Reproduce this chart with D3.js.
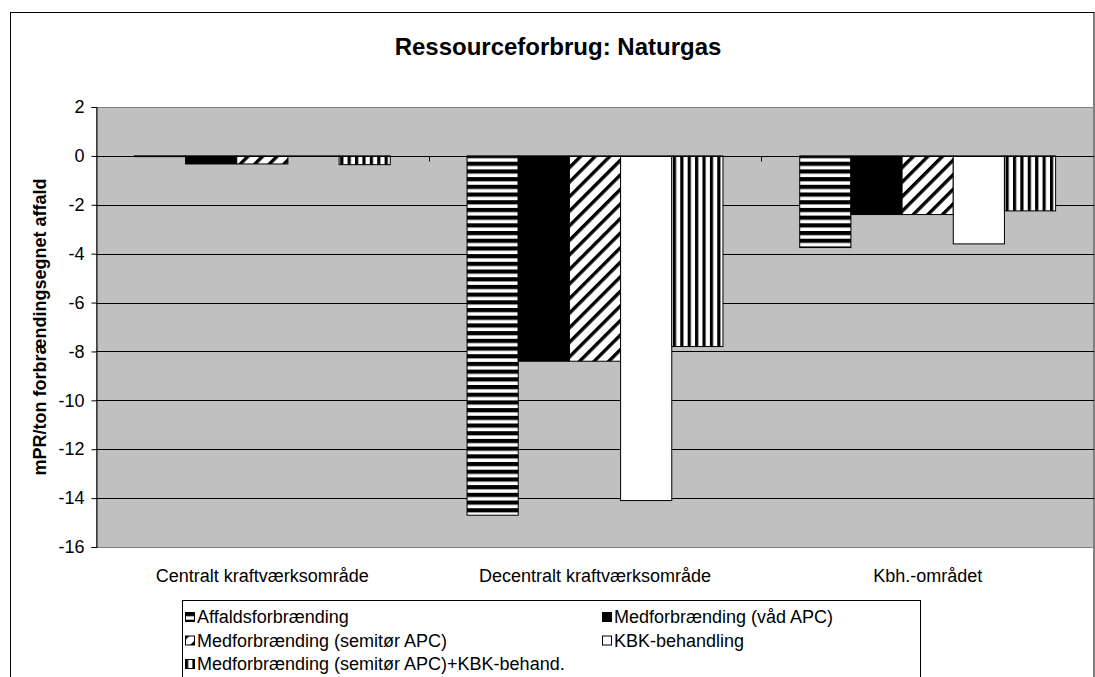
<!DOCTYPE html>
<html>
<head>
<meta charset="utf-8">
<script src="https://cdn.jsdelivr.net/npm/d3@7"></script>
<style>
  body { margin: 0; background: #fff; }
  text { font-family: Arial, "Liberation Sans", sans-serif; fill: #000; }
</style>
</head>
<body>
<div id="chart"></div>
<script>
// data
var categories = ["Centralt kraftværksområde", "Decentralt kraftværksområde", "Kbh.-området"];
var seriesNames = ["Affaldsforbrænding", "Medforbrænding (våd APC)", "Medforbrænding (semitør APC)",
                   "KBK-behandling", "Medforbrænding (semitør APC)+KBK-behand."];
var affald   = [-0.03, -14.7, -3.75];
var vaad     = [-0.33, -8.4, -2.4];
var semitor  = [-0.33, -8.4, -2.4];
var kbk      = [-0.02, -14.1, -3.6];
var semiKbk  = [-0.36, -7.8, -2.25];
var yTicks   = [2, 0, -2, -4, -6, -8, -10, -12, -14, -16];
var fills    = ["url(#horiz)", "#000", "url(#diag)", "#fff", "url(#vert)"];

var values = [affald, vaad, semitor, kbk, semiKbk];

// 1: dimensions
var W = 1095, H = 677;
var plot = {left: 96, right: 1094, top: 107, bottom: 547};

var svg = d3.select("#chart").append("svg")
    .attr("width", W)
    .attr("height", H);

// patterns
var defs = svg.append("defs");
var ph = defs.append("pattern").attr("id", "horiz")
    .attr("patternUnits", "userSpaceOnUse").attr("width", 8).attr("height", 7.7);
ph.append("rect").attr("width", 8).attr("height", 7.7).attr("fill", "#fff");
ph.append("rect").attr("width", 8).attr("height", 4.2).attr("fill", "#000");

var pv = defs.append("pattern").attr("id", "vert")
    .attr("patternUnits", "userSpaceOnUse").attr("width", 7.4).attr("height", 8);
pv.append("rect").attr("width", 7.4).attr("height", 8).attr("fill", "#fff");
pv.append("rect").attr("width", 3.2).attr("height", 8).attr("fill", "#000");

var pd = defs.append("pattern").attr("id", "diag")
    .attr("patternUnits", "userSpaceOnUse").attr("width", 10.3).attr("height", 10.3)
    .attr("patternTransform", "rotate(45)");
pd.append("rect").attr("width", 10.3).attr("height", 10.3).attr("fill", "#fff");
pd.append("rect").attr("width", 3.4).attr("height", 10.3).attr("fill", "#000");

// 2: chart border
svg.append("rect")
    .attr("x", 10.5).attr("y", 12.5)
    .attr("width", 1083.5).attr("height", 700)
    .attr("fill", "#fff").attr("stroke", "#000");

// 3: scales
var x0 = d3.scaleBand()
    .domain(categories)
    .range([plot.left, plot.right])
    .padding(0);
var x1 = d3.scaleBand()
    .domain(d3.range(seriesNames.length))
    .range([0, x0.bandwidth()])
    .paddingInner(0)
    .paddingOuter(0.75);
var y = d3.scaleLinear()
    .domain([-16, 2])
    .range([plot.bottom, plot.top]);

// plot area
svg.append("rect")
    .attr("x", plot.left + 0.5).attr("y", plot.top + 0.5)
    .attr("width", plot.right - plot.left - 1).attr("height", plot.bottom - plot.top)
    .attr("fill", "#c0c0c0").attr("stroke", "#808080");

// gridlines
svg.append("g").selectAll("line")
    .data(yTicks.filter(function(d){ return d != 2 && d != -16; }))
    .enter().append("line")
    .attr("x1", plot.left).attr("x2", plot.right)
    .attr("y1", function(d){ return Math.round(y(d)) + 0.5; })
    .attr("y2", function(d){ return Math.round(y(d)) + 0.5; })
    .attr("stroke", "#000");

// y axis (plain hyphen minus like the original)
var yAxis = svg.append("g")
    .attr("transform", "translate(" + (plot.left + 0.5) + ",0)")
    .call(d3.axisLeft(y).tickValues(yTicks).tickSize(5).tickPadding(7)
      .tickFormat(function(d){ return String(d); }));
yAxis.select(".domain").attr("stroke", "#000");
yAxis.selectAll(".tick line").attr("stroke", "#000");
yAxis.selectAll("text").attr("font-size", 18).style("font-family", "Arial, 'Liberation Sans', sans-serif");

// bars
var groups = svg.append("g").selectAll("g")
    .data(categories)
    .enter().append("g")
    .attr("transform", function(d){ return "translate(" + x0(d) + ",0)"; });

groups.selectAll("rect")
    .data(function(d, i){ return values.map(function(v, s){ return {s: s, v: v[i]}; }); })
    .enter().append("rect")
    .attr("x", function(d){ return x1(d.s); })
    .attr("y", function(d){ return y(Math.max(0, d.v)); })
    .attr("width", x1.bandwidth())
    .attr("height", function(d){ return Math.abs(y(d.v) - y(0)); })
    .attr("fill", function(d){ return fills[d.s]; })
    .attr("stroke", "#000")
    .attr("stroke-width", 1);

// category axis at zero
var zy = Math.round(y(0)) + 0.5;
svg.append("line")
    .attr("x1", plot.left).attr("x2", plot.right)
    .attr("y1", zy).attr("y2", zy)
    .attr("stroke", "#000");
svg.append("g").selectAll("line")
    .data(categories.slice(1))
    .enter().append("line")
    .attr("x1", function(d){ return Math.round(x0(d)) + 0.5; })
    .attr("x2", function(d){ return Math.round(x0(d)) + 0.5; })
    .attr("y1", zy).attr("y2", zy + 5)
    .attr("stroke", "#000");

// category labels (low)
svg.append("g").selectAll("text")
    .data(categories)
    .enter().append("text")
    .attr("x", function(d){ return x0(d) + x0.bandwidth() / 2; })
    .attr("y", 582)
    .attr("text-anchor", "middle")
    .attr("font-size", 18)
    .text(function(d){ return d; });

// title
svg.append("text")
    .attr("x", 558).attr("y", 55)
    .attr("text-anchor", "middle")
    .attr("font-size", 24).attr("font-weight", "bold")
    .text("Ressourceforbrug: Naturgas");

// y title
svg.append("text")
    .attr("transform", "translate(46," + ((plot.top + plot.bottom) / 2) + ") rotate(-90)")
    .attr("text-anchor", "middle")
    .attr("font-size", 18).attr("font-weight", "bold")
    .text("mPR/ton forbrændingsegnet affald");

// legend
var lg = svg.append("g");
lg.append("rect")
    .attr("x", 182.5).attr("y", 600.5)
    .attr("width", 738).attr("height", 100)
    .attr("fill", "#fff").attr("stroke", "#000");

var item = lg.selectAll("g.item")
    .data(seriesNames)
    .enter().append("g")
    .attr("class", "item")
    .attr("transform", function(d, i){
      return "translate(" + (i % 2 == 0 ? 185 : 602) + "," + (612 + Math.floor(i / 2) * 23.5) + ")";
    });
item.append("rect")
    .attr("x", 0.5).attr("y", 0.5)
    .attr("width", 9).attr("height", 9)
    .attr("fill", function(d, i){ return fills[i]; })
    .attr("stroke", "#000");
item.append("text")
    .attr("x", 12).attr("y", 11)
    .attr("font-size", 18)
    .text(function(d){ return d; });
</script>
</body>
</html>
